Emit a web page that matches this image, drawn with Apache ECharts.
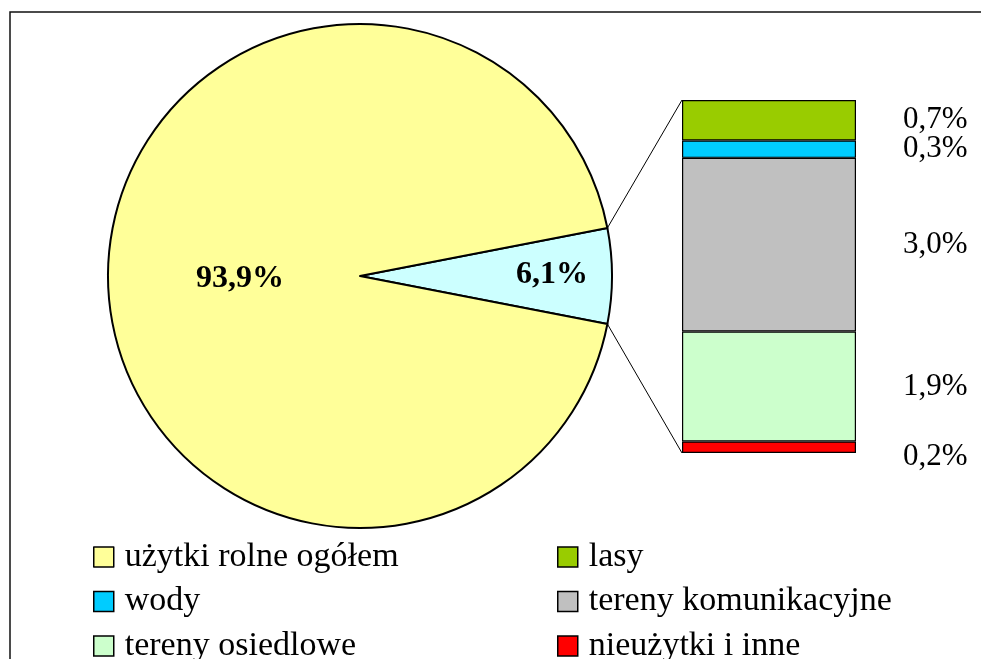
<!DOCTYPE html>
<html>
<head>
<meta charset="utf-8">
<script src="https://cdn.jsdelivr.net/npm/echarts@6/dist/echarts.min.js"></script>
<style>
html,body{margin:0;padding:0;background:#fff;}
#chart{width:981px;height:659px;}
</style>
</head>
<body>
<div id="chart"></div>
<script>
// ---- data ----
const pieNames = ['pozostałe', 'użytki rolne ogółem'];
const pieValues = [6.1, 93.9];
const pieColors = ['#CCFFFF', '#FFFF99'];

// stacked from bottom to top
const barNames = ['nieużytki i inne', 'tereny osiedlowe', 'tereny komunikacyjne', 'wody', 'lasy'];
const barValues = [0.2, 1.9, 3.0, 0.3, 0.7];
const barColors = ['#FF0000', '#CCFFCC', '#C0C0C0', '#00CCFF', '#99CC00'];

const legendLeft = ['użytki rolne ogółem', 'wody', 'tereny osiedlowe'];
const legendRight = ['lasy', 'tereny komunikacyjne', 'nieużytki i inne'];

// ---- layout ----
const FONT = '"Liberation Serif", "Times New Roman", serif';
const pieCenter = [360, 276];
const pieRadius = 252;
const grid = { left: 682, top: 100, width: 174, height: 353 };

const fmt = v => v.toFixed(1).replace('.', ',') + '%';
const pieTotal = pieValues.reduce((a, b) => a + b, 0);
const barTotal = barValues.reduce((a, b) => a + b, 0);
const startAngle = pieValues[0] / pieTotal * 360 / 2;

const chart = echarts.init(document.getElementById('chart'), null, { renderer: 'canvas' });

const series = [{
  type: 'pie',
  center: pieCenter,
  radius: pieRadius,
  startAngle: startAngle,
  clockwise: true,
  animation: false,
  silent: true,
  data: pieNames.map((n, i) => ({
    name: n, value: pieValues[i],
    itemStyle: { color: pieColors[i], borderColor: '#000', borderWidth: 2 }
  })),
  label: {
    show: true, position: 'inside',
    formatter: p => fmt(p.value),
    fontFamily: FONT, fontSize: 32, fontWeight: 'bold', color: '#000'
  },
  labelLayout: p => (p.dataIndex === 0 ? { dx: 63, dy: -1 } : { dx: 9, dy: 3 }),
  labelLine: { show: false }
}];

barNames.forEach((n, i) => {
  series.push({
    type: 'bar', name: n, stack: 's', barWidth: '100%',
    animation: false, silent: true,
    data: [barValues[i]],
    itemStyle: { color: barColors[i], borderColor: '#000', borderWidth: 1.2 },
    label: {
      show: true, position: 'right', distance: 47,
      formatter: p => fmt(p.value),
      fontFamily: FONT, fontSize: 31, color: '#000'
    },
    labelLayout: i === 0 ? { dy: 10 } : null
  });
});

const legendCommon = {
  orient: 'vertical',
  icon: 'rect',
  padding: 0,
  itemWidth: 20, itemHeight: 20,
  itemGap: 10.5,
  height: 300,
  selectedMode: false,
  itemStyle: { borderColor: '#000', borderWidth: 1.5 },
  textStyle: { fontFamily: FONT, fontSize: 34, color: '#000', lineHeight: 34, padding: [0, 0, 0, 6] }
};

// connector lines from pie slice edges to the bar corners
const a = startAngle * Math.PI / 180;
const p1 = [pieCenter[0] + pieRadius * Math.cos(a), pieCenter[1] - pieRadius * Math.sin(a)];
const p2 = [pieCenter[0] + pieRadius * Math.cos(a), pieCenter[1] + pieRadius * Math.sin(a)];
const barLeft = grid.left;
const barTopPx = grid.top;
const barBotPx = grid.top + grid.height;

chart.setOption({
  backgroundColor: '#fff',
  animation: false,
  grid: Object.assign({}, grid, { containLabel: false }),
  xAxis: { type: 'category', data: [''], show: false },
  yAxis: { type: 'value', min: 0, max: barTotal, show: false },
  legend: [
    Object.assign({}, legendCommon, { data: legendLeft, left: 93, top: 540 }),
    Object.assign({}, legendCommon, { data: legendRight, left: 557, top: 540 })
  ],
  series: series,
  graphic: [
    { type: 'rect', shape: { x: 10, y: 12, width: 1000, height: 700 },
      style: { fill: 'none', stroke: '#111', lineWidth: 1.5 }, silent: true, z: 100 },
    { type: 'line', shape: { x1: p1[0], y1: p1[1], x2: barLeft, y2: barTopPx },
      style: { stroke: '#000', lineWidth: 1 }, silent: true, z: 100 },
    { type: 'line', shape: { x1: p2[0], y1: p2[1], x2: barLeft, y2: barBotPx },
      style: { stroke: '#000', lineWidth: 1 }, silent: true, z: 100 }
  ]
});
</script>
</body>
</html>
